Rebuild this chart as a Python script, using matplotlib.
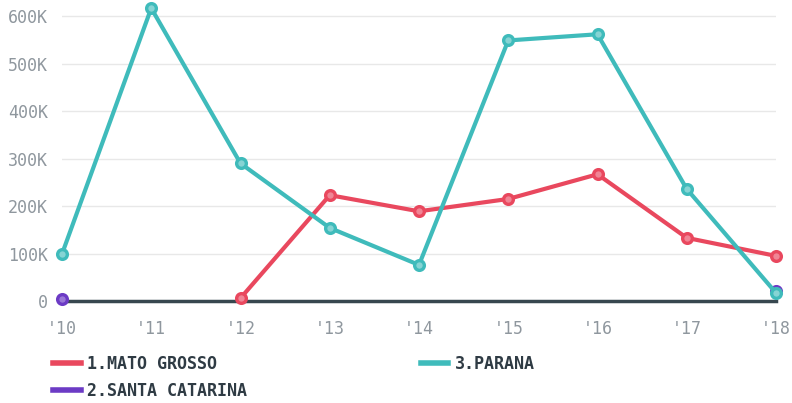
import matplotlib
matplotlib.use("Agg")
from matplotlib import pyplot as plt
import numpy as np

# dados
anos = ["'10", "'11", "'12", "'13", "'14", "'15", "'16", "'17", "'18"]
mato_grosso = [None, None, 6000, 223000, 189000, 215000, 267000, 133000, 95000]
santa_catarina = [5000, None, None, None, None, None, None, None, 22000]
parana = [99000, 617000, 290000, 154000, 76000, 549000, 562000, 236000, 17000]
yticks = [0, 100000, 200000, 300000, 400000, 500000, 600000]
ylabels = ["0", "100K", "200K", "300K", "400K", "500K", "600K"]

series = [
    ("1.MATO GROSSO", mato_grosso, "#e9485e", "#f08595"),
    ("2.SANTA CATARINA", santa_catarina, "#6c3bc5", "#9a78d8"),
    ("3.PARANA", parana, "#3fbbbb", "#86d4d4"),
]

fig = plt.figure(figsize=(7.92, 4.03), dpi=100)
ax = fig.add_axes([62 / 792, 1 - 301 / 403, 714 / 792, 299 / 403])

x = np.arange(len(anos))
for nome, valores, cor, centro in series:
    y = np.array([np.nan if v is None else v for v in valores], dtype=float)
    ax.plot(x, y, color=cor, lw=3, marker="o", ms=7, mfc=centro, mec=cor,
            mew=2.4, label=nome, clip_on=False, zorder=3)

ax.axhline(0, color="#37474f", lw=2.5, zorder=2, clip_on=False)
ax.set_xlim(0, len(anos) - 1)
ax.set_ylim(0, 630000)
ax.set_yticks(yticks)
ax.set_yticklabels(ylabels)
ax.set_xticks(x)
ax.set_xticklabels(anos)
ax.grid(axis="y", color="#e8e8e8", lw=1)
ax.set_axisbelow(True)
for s in ax.spines.values():
    s.set_visible(False)
ax.tick_params(length=0, colors="#8f979e", labelsize=12)
ax.tick_params(axis="y", pad=10)
ax.tick_params(axis="x", pad=14)
for t in ax.get_xticklabels() + ax.get_yticklabels():
    t.set_family("DejaVu Sans Mono")

leg = fig.legend(loc="upper left", bbox_to_anchor=(38 / 792, 1 - 340 / 403),
                 ncol=2, frameon=False, handlelength=1.65, handletextpad=0.4,
                 columnspacing=10.4, labelspacing=0.55,
                 prop={"family": "DejaVu Sans Mono", "weight": "bold", "size": 12})
for t in leg.get_texts():
    t.set_color("#2f3b44")
for l in leg.get_lines():
    l.set_marker("")
    l.set_linewidth(4)

plt.savefig("out.png", dpi=100)
